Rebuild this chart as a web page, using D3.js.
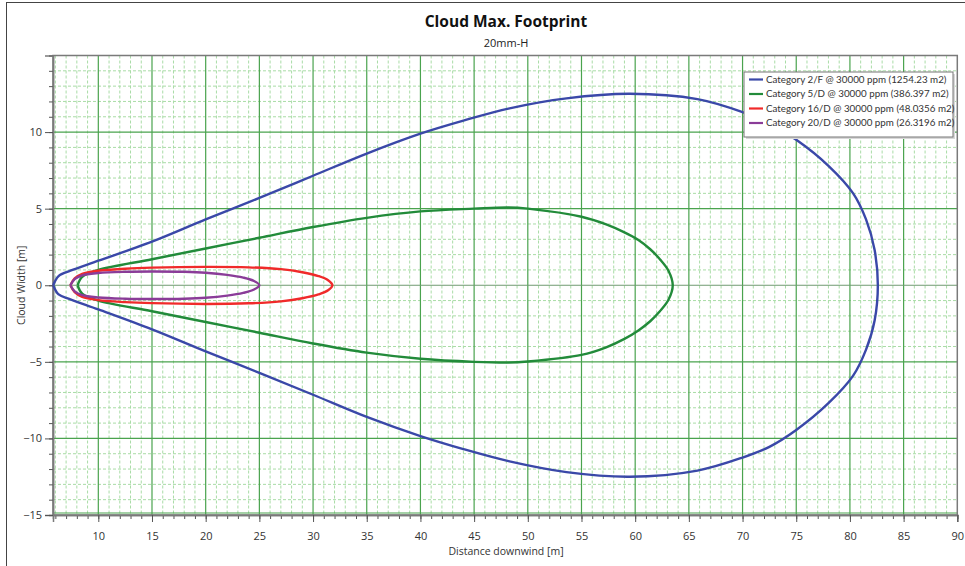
<!DOCTYPE html>
<html>
<head>
<meta charset="utf-8">
<script src="https://cdn.jsdelivr.net/npm/d3@7"></script>
<style>
  html, body { margin: 0; padding: 0; background: #fff; }
  svg { display: block; font-family: "Open Sans", "Noto Sans", sans-serif; }
</style>
</head>
<body>
<svg id="chart" width="965" height="566"></svg>
<script>
// Cloud footprint contours: [distance downwind (m), cloud width (m)], traced round each contour
const seriesNames = [
  "Category 2/F @ 30000 ppm (1254.23 m2)",
  "Category 5/D @ 30000 ppm (386.397 m2)",
  "Category 16/D @ 30000 ppm (48.0356 m2)",
  "Category 20/D @ 30000 ppm (26.3196 m2)"
];
const seriesColors = ["#3a48a8", "#228b3a", "#f02a2a", "#8a3c98"];

const cat2F = [
  [5.8, 0], [6.3, 0.6], [7.4, 0.95], [10, 1.6], [15, 2.85], [20, 4.3], [25, 5.7], [30, 7.15],
  [35, 8.6], [40, 9.9], [44, 10.75], [48.3, 11.55], [53.6, 12.2], [59.5, 12.5], [65.8, 12.15],
  [70, 11.3], [72.5, 10.55], [75, 9.5], [78, 7.8], [80.3, 6.0], [81.5, 4.3], [82.3, 2.3], [82.6, 0],
  [82.3, -2.3], [81.5, -4.2], [80.3, -5.9], [78, -7.7], [75, -9.45], [72.5, -10.55], [70, -11.25],
  [65.8, -12.1], [59.5, -12.5], [53.6, -12.2], [48.3, -11.5], [44, -10.7], [40, -9.85], [35, -8.6],
  [30, -7.15], [25, -5.72], [20, -4.32], [15, -2.88], [10, -1.58], [7.4, -0.92], [6.3, -0.6], [5.8, 0]
];
const cat5D = [
  [8.07, 0], [8.5, 0.55], [10, 1.0], [15, 1.7], [20, 2.4], [25, 3.1], [30, 3.8], [35, 4.4],
  [40, 4.82], [45, 5.0], [48.2, 5.08], [50, 5.0], [55, 4.47], [57.3, 3.97], [59, 3.45], [60.3, 2.95],
  [61.4, 2.35], [62.3, 1.7], [63.1, 0.95], [63.5, 0],
  [63.1, -0.95], [62.3, -1.7], [61.4, -2.35], [60.3, -2.95], [59, -3.5], [57.3, -4.05], [55, -4.55],
  [50, -4.98], [48.2, -5.05], [45, -5.0],
  [40, -4.8], [35, -4.4], [30, -3.8], [25, -3.1], [20, -2.4], [15, -1.7], [10, -1.0], [8.5, -0.55], [8.07, 0]
];
const cat16D = [
  [7.4, 0], [7.8, 0.45], [8.5, 0.75], [10, 0.95], [12.5, 1.08], [15, 1.15], [20, 1.2], [24, 1.17],
  [27, 1.05], [29, 0.85], [30.5, 0.6], [31.4, 0.33], [31.8, 0],
  [31.4, -0.33], [30.5, -0.6], [29, -0.85], [27, -1.05], [24, -1.18], [20, -1.22], [15, -1.17],
  [12.5, -1.1], [10, -0.97], [8.5, -0.76], [7.8, -0.45], [7.4, 0]
];
const cat20D = [
  [7.4, 0], [7.8, 0.4], [8.5, 0.65], [10, 0.8], [12.5, 0.88], [15, 0.9], [18, 0.88], [20, 0.82],
  [22, 0.68], [23.5, 0.5], [24.5, 0.28], [25, 0],
  [24.5, -0.28], [23.5, -0.5], [22, -0.68], [20, -0.82], [18, -0.88], [15, -0.9], [12.5, -0.88],
  [10, -0.8], [8.5, -0.65], [7.8, -0.4], [7.4, 0]
];
const seriesData = [cat2F, cat5D, cat16D, cat20D];

const xTicks = [10, 15, 20, 25, 30, 35, 40, 45, 50, 55, 60, 65, 70, 75, 80, 85, 90];
const yTicks = [-15, -10, -5, 0, 5, 10];

const svg = d3.select("#chart");
const plotLeft = 53, plotRight = 957.3, plotTop = 55.5, plotBottom = 515;
const x = d3.scaleLinear().domain([5.78, 90]).range([plotLeft, plotRight]);
const y = d3.scaleLinear().domain([-15, 15]).range([plotBottom, plotTop]);

// outer frame edges
svg.append("line").attr("x1", 6.5).attr("x2", 6.5).attr("y1", 2).attr("y2", 566)
  .attr("stroke", "#444").attr("stroke-width", 1);
svg.append("line").attr("x1", 6).attr("x2", 965).attr("y1", 2.5).attr("y2", 2.5)
  .attr("stroke", "#444").attr("stroke-width", 1);

// titles
svg.append("text").attr("x", 506).attr("y", 27).attr("text-anchor", "middle")
  .attr("font-size", 15.5).attr("font-weight", "bold").attr("fill", "#111").text("Cloud Max. Footprint");
svg.append("text").attr("x", 506).attr("y", 47).attr("text-anchor", "middle")
  .attr("font-size", 11).attr("fill", "#222").text("20mm-H");

// grid
const grid = svg.append("g");
const minorX = d3.range(6, 90).filter(v => v % 5 !== 0);
const majorX = d3.range(10, 90, 5);
const minorY = d3.range(-14, 15).filter(v => v % 5 !== 0);
const majorY = d3.range(-10, 15, 5);
grid.selectAll(".mnx").data(minorX).join("line")
  .attr("x1", d => x(d)).attr("x2", d => x(d)).attr("y1", plotTop).attr("y2", plotBottom)
  .attr("stroke", "#a9dca6").attr("stroke-width", 1).attr("stroke-dasharray", "3,2");
grid.selectAll(".mny").data(minorY).join("line")
  .attr("y1", d => y(d)).attr("y2", d => y(d)).attr("x1", plotLeft).attr("x2", plotRight)
  .attr("stroke", "#a9dca6").attr("stroke-width", 1).attr("stroke-dasharray", "3,2");
grid.selectAll(".mjx").data(majorX).join("line")
  .attr("x1", d => x(d)).attr("x2", d => x(d)).attr("y1", plotTop).attr("y2", plotBottom)
  .attr("stroke", "#4aa34e").attr("stroke-width", 1.2);
grid.selectAll(".mjy").data(majorY).join("line")
  .attr("y1", d => y(d)).attr("y2", d => y(d)).attr("x1", plotLeft).attr("x2", plotRight)
  .attr("stroke", d => d === 0 ? "#6f9a70" : "#4aa34e").attr("stroke-width", 1.2);
grid.append("line").attr("x1", plotLeft).attr("x2", plotRight).attr("y1", y(-15) - 2).attr("y2", y(-15) - 2)
  .attr("stroke", "#4aa34e").attr("stroke-width", 1.2);

// plot frame
svg.append("rect").attr("x", plotLeft).attr("y", plotTop)
  .attr("width", plotRight - plotLeft).attr("height", plotBottom - plotTop)
  .attr("fill", "none").attr("stroke", "#7a7a7a").attr("stroke-width", 1.5);

// axes
const xAxisMinor = d3.axisBottom(x).tickValues(d3.range(6, 91)).tickSize(4).tickFormat("");
const xAxisMajor = d3.axisBottom(x).tickValues(xTicks).tickSize(7).tickPadding(10);
const yAxisMinor = d3.axisLeft(y).tickValues(d3.range(-15, 16)).tickSize(4).tickFormat("");
const yAxisMajor = d3.axisLeft(y).tickValues(yTicks).tickSize(8).tickPadding(3);

function styleAxis(g) {
  g.select(".domain").attr("stroke", "#7a7a7a").attr("stroke-width", 1.5);
  g.selectAll(".tick line").attr("stroke", "#555");
  g.selectAll(".tick text").attr("fill", "#333").attr("font-size", 11)
    .attr("font-family", "'Open Sans', 'Noto Sans', sans-serif");
}
svg.append("g").attr("transform", `translate(0,${plotBottom})`).call(xAxisMinor).call(styleAxis);
svg.append("g").attr("transform", `translate(0,${plotBottom})`).call(xAxisMajor).call(styleAxis);
svg.append("g").attr("transform", `translate(${plotLeft},0)`).call(yAxisMinor).call(styleAxis);
svg.append("g").attr("transform", `translate(${plotLeft},0)`).call(yAxisMajor).call(styleAxis);

svg.append("text").attr("x", 506).attr("y", 555).attr("text-anchor", "middle")
  .attr("font-size", 10.5).attr("fill", "#333").text("Distance downwind [m]");
svg.append("text").attr("transform", `translate(25,${y(0)}) rotate(-90)`).attr("text-anchor", "middle")
  .attr("font-size", 10.5).attr("fill", "#333").text("Cloud Width [m]");

// contours
const line = d3.line().x(d => x(d[0])).y(d => y(d[1])).curve(d3.curveCatmullRom.alpha(0.5));
svg.append("g").selectAll("path").data(seriesData).join("path")
  .attr("d", line).attr("fill", "none")
  .attr("stroke", (d, i) => seriesColors[i]).attr("stroke-width", 2.4)
  .attr("stroke-linejoin", "round");

// legend
const lg = svg.append("g").attr("transform", "translate(744,72)");
lg.append("rect").attr("x", 2).attr("y", 2).attr("width", 209).attr("height", 65).attr("fill", "#d8d8d8");
lg.append("rect").attr("x", 0).attr("y", 0).attr("width", 209).attr("height", 65)
  .attr("fill", "#fff").attr("stroke", "#777").attr("stroke-width", 1);
const rows = lg.selectAll(".row").data(seriesNames).join("g")
  .attr("transform", (d, i) => `translate(0,${7.5 + i * 14.5})`);
rows.append("line").attr("x1", 5).attr("x2", 19).attr("y1", 0).attr("y2", 0)
  .attr("stroke", (d, i) => seriesColors[i]).attr("stroke-width", 2.2);
rows.append("text").attr("x", 22).attr("y", 0).attr("dy", "0.35em")
  .attr("font-family", "Lato, 'Open Sans', sans-serif")
  .attr("font-size", 9.8).attr("fill", "#333").text(d => d);
</script>
</body>
</html>
